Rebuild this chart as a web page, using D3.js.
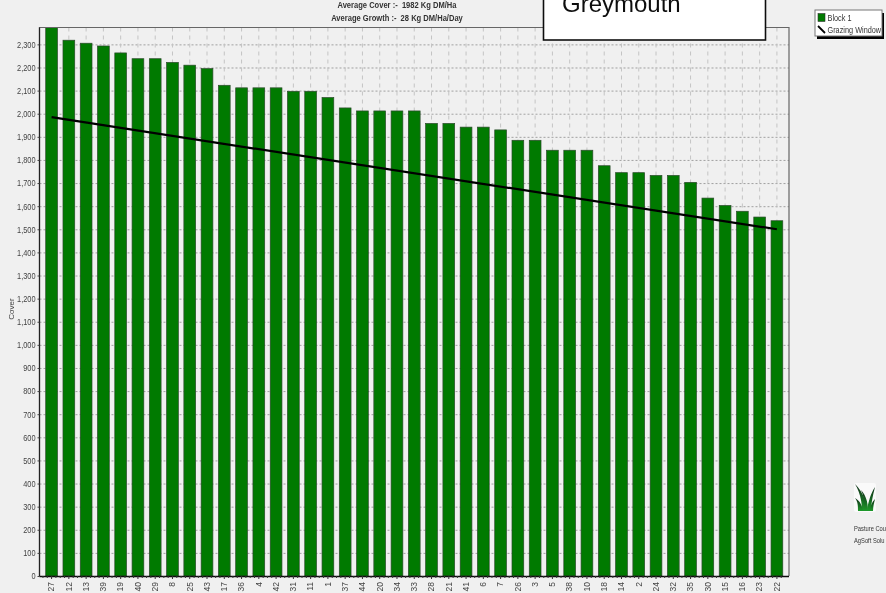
<!DOCTYPE html>
<html><head><meta charset="utf-8">
<script src="https://cdn.jsdelivr.net/npm/d3@7"></script>
<style>html,body{margin:0;padding:0;background:#f0f0f0;overflow:hidden}svg{display:block}
text{font-family:"Liberation Sans",Arial,sans-serif}</style>
</head><body><div id="c"></div>
<script>
const categories=["27","12","13","39","19","40","29","8","25","43","17","36","4","42","31","11","1","37","44","20","34","33","28","21","41","6","7","26","3","5","38","10","18","14","2","24","32","35","30","15","16","23","22"];
const coverValues=[2400,2318,2305,2293,2263,2238,2238,2222,2210,2195,2123,2112,2112,2112,2097,2097,2070,2025,2012,2012,2012,2012,1958,1958,1942,1942,1930,1885,1885,1842,1842,1842,1775,1745,1745,1733,1733,1703,1635,1603,1578,1553,1537];
const windowCategories=["27","22"];
const windowValues=[1985,1500];
const yTicks=d3.range(0,2301,100);
const titleLines=["Average Cover :-  1982 Kg DM/Ha","Average Growth :-  28 Kg DM/Ha/Day"];
const legendLabels=["Block 1","Grazing Window"];
const footerLines=["Pasture Cou","AgSoft Solu"];
const stationName="Greymouth";

const W=886,H=593,L=39.5,R=789,T=27.5,B=576;
const svg=d3.select("#c").append("svg").attr("width",W).attr("height",H);
const y=d3.scaleLinear().domain([0,2373]).range([B,T]);
const x=d3.scaleBand().domain(categories).range([L,R]).paddingInner(0.32).paddingOuter(0.36);
const cx=d=>x(d)+x.bandwidth()/2;
// condense text horizontally, since no narrow face is installed
function squeeze(sel,k){sel.each(function(){const n=this.getComputedTextLength();this.setAttribute("textLength",n*k);this.setAttribute("lengthAdjust","spacingAndGlyphs");});}
const defs=svg.append("defs");
defs.append("clipPath").attr("id","plot").append("rect").attr("x",L).attr("y",T).attr("width",R-L).attr("height",B-T);
const soft=defs.append("filter").attr("id","soft").attr("x",0).attr("y",0).attr("width",1).attr("height",1);
soft.append("feGaussianBlur").attr("stdDeviation",0.35);
const blade=defs.append("linearGradient").attr("id","blade").attr("x1",0).attr("y1",0).attr("x2",0).attr("y2",1);
blade.append("stop").attr("offset","0").attr("stop-color","#10301a");
blade.append("stop").attr("offset","0.45").attr("stop-color","#145c20");
blade.append("stop").attr("offset","1").attr("stop-color","#1f9a2a");

const root=svg.append("g").attr("filter","url(#soft)");
root.append("rect").attr("width",W).attr("height",H).attr("fill","#f0f0f0");
// grid
root.append("g").selectAll("line").data(yTicks).join("line")
 .attr("x1",L).attr("x2",R).attr("y1",d=>y(d)+.5).attr("y2",d=>y(d)+.5)
 .attr("stroke","#979797").attr("stroke-width",.9).attr("stroke-dasharray","2 2");
root.append("g").selectAll("line").data(categories).join("line")
 .attr("x1",d=>cx(d)).attr("x2",d=>cx(d)).attr("y1",T).attr("y2",B)
 .attr("stroke","#c4c4c4").attr("stroke-width",1).attr("stroke-dasharray","4 4");
// bars
root.append("g").attr("clip-path","url(#plot)").selectAll("rect").data(categories).join("rect")
 .attr("x",d=>x(d)).attr("width",x.bandwidth())
 .attr("y",(d,i)=>y(coverValues[i])).attr("height",(d,i)=>B-y(coverValues[i]))
 .attr("fill","#007a00").attr("stroke","#2c4a2c").attr("stroke-width",.7);
// window line
const line=d3.line().x((d,i)=>cx(windowCategories[i])).y(d=>y(d));
root.append("path").attr("d",line(windowValues)).attr("fill","none").attr("stroke","#000").attr("stroke-width",2.2);
// frame
root.append("path").attr("d",`M${L},${B}V${T}H${R}V${B}`).attr("fill","none").attr("stroke","#666").attr("stroke-width",1.2);
root.append("line").attr("x1",L).attr("x2",L).attr("y1",T).attr("y2",B).attr("stroke","#222").attr("stroke-width",1.2);
// axes
const yAxis=d3.axisLeft(y).tickValues(yTicks).tickSize(2).tickFormat(d3.format(","));
const gy=root.append("g").attr("transform",`translate(${L},0)`).call(yAxis);
gy.select(".domain").remove();
gy.selectAll("text").attr("x",-4).attr("font-size",9).attr("fill","#444").call(squeeze,.82);
gy.selectAll("line").attr("stroke","#444");
const xAxis=d3.axisBottom(x).tickSize(3);
const gx=root.append("g").attr("transform",`translate(0,${B})`).call(xAxis);
gx.select(".domain").attr("d",`M${L},0.5H${R}`).attr("stroke","#111").attr("stroke-width",1.5);
gx.selectAll("line").attr("stroke","#333");
gx.selectAll("text").attr("transform","rotate(-90)").attr("text-anchor","end").attr("dy","0.33em").attr("x",-6).attr("y",0).attr("font-size",8.5).attr("fill","#444");
// minor x ticks
const minor=[];categories.forEach(d=>{[-.5,-.25,.25].forEach(f=>minor.push(cx(d)+f*x.step()))});
root.append("g").selectAll("line").data(minor).join("line").attr("x1",d=>d).attr("x2",d=>d).attr("y1",B).attr("y2",B+2).attr("stroke","#333");
// y title
root.append("text").attr("transform","translate(14,309) rotate(-90)").attr("text-anchor","middle").attr("font-size",8).attr("fill","#444").text("Cover");
// heading
root.selectAll(".ttl").data(titleLines).join("text").attr("class","ttl")
 .attr("x",397).attr("y",(d,i)=>7.5+i*13).attr("text-anchor","middle").attr("font-size",9).attr("font-weight","bold").attr("fill","#333").attr("xml:space","preserve").text(d=>d).call(squeeze,.84);
// station box
root.append("rect").attr("x",543.5).attr("y",-3).attr("width",222).attr("height",43).attr("fill","#fff").attr("stroke","#111").attr("stroke-width",1.6);
root.append("text").attr("x",562).attr("y",12).attr("font-size",24).attr("fill","#111").text(stationName);
// legend
root.append("rect").attr("x",817).attr("y",13).attr("width",67).attr("height",26).attr("fill","#000");
root.append("rect").attr("x",815).attr("y",10).attr("width",67).attr("height",26).attr("fill","#fff").attr("stroke","#777");
root.append("rect").attr("x",818).attr("y",13.5).attr("width",7).attr("height",8).attr("fill","#007a00").attr("stroke","#333").attr("stroke-width",.6);
root.append("line").attr("x1",818).attr("y1",26).attr("x2",825).attr("y2",33).attr("stroke","#000").attr("stroke-width",1.8);
root.selectAll(".lg").data(legendLabels).join("text").attr("class","lg").attr("x",827.5).attr("y",(d,i)=>20.5+i*12).attr("font-size",8.5).attr("fill","#333").text(d=>d).call(squeeze,.86);
// logo
const logo=root.append("g");
logo.append("rect").attr("x",854).attr("y",483).attr("width",22).attr("height",29).attr("rx",2).attr("fill","#fafafa");
logo.selectAll("path").data([
 "M862,511C862,502 860,492 855,484C861,490 866,498 867,511Z",
 "M864,511C864,502 864,496 861,490C866,495 868,503 868,511Z",
 "M867,511C868,502 871,493 875,487C873,495 871,503 871,511Z",
 "M858,511C858,506 858,502 855,498C860,501 862,505 863,511Z",
 "M870,511C870,506 872,502 875,499C874,503 873,507 873,511Z"
]).join("path").attr("d",d=>d).attr("fill","url(#blade)");
root.selectAll(".ft").data(footerLines).join("text").attr("class","ft").attr("x",854).attr("y",(d,i)=>530.5+i*12).attr("font-size",8).attr("fill","#333").text(d=>d).call(squeeze,.72);
</script></body></html>
